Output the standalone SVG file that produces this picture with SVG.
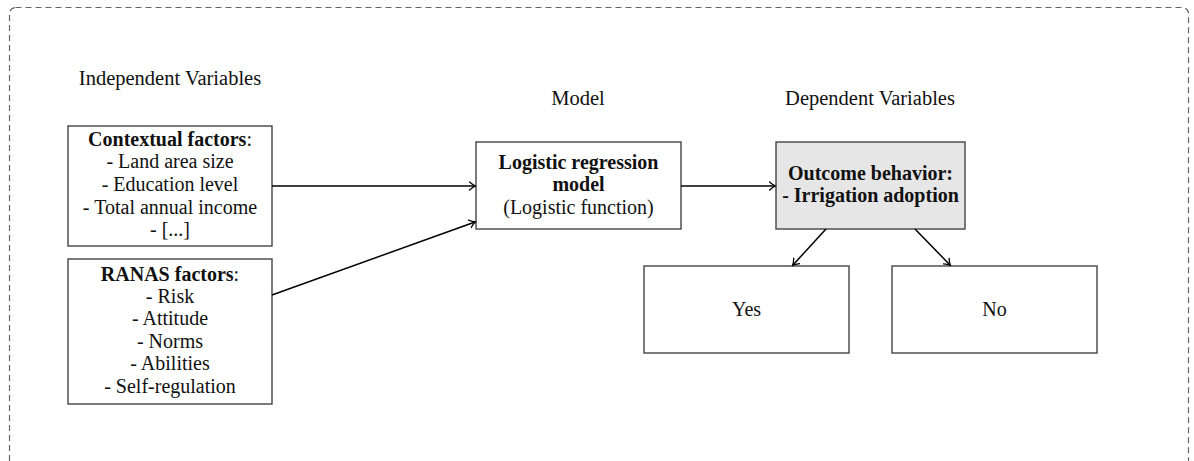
<svg xmlns="http://www.w3.org/2000/svg" width="1194" height="461" viewBox="0 0 1194 461">
  <defs>
    <marker id="arrow" viewBox="-6 -5 8 10" markerWidth="8" markerHeight="10" refX="0" refY="0" orient="auto" markerUnits="userSpaceOnUse">
      <path d="M -5.5 -4 Q -2 -1 0.5 0 Q -2 1 -5.5 4" fill="none" stroke="#000" stroke-width="1.3" stroke-linecap="round"/>
    </marker>
  </defs>
  <style>
    text { font-family: "Liberation Serif", "DejaVu Serif", serif; font-size: 20px; fill: #111; text-anchor: middle; }
    .head { font-size: 20.5px; }
    .b { font-weight: bold; }
    .box { fill: #fff; stroke: #444; stroke-width: 1.4; }
    .shade { fill: #e6e6e6; }
    .edge { fill: none; stroke: #000; stroke-width: 1.5; marker-end: url(#arrow); }
    .frame { fill: none; stroke: #666; stroke-width: 1.2; stroke-dasharray: 6 4; }
  </style>

  <!-- outer dashed frame -->
  <rect class="frame" x="9.5" y="7.5" width="1179" height="520" rx="6" ry="6"/>

  <!-- column headings -->
  <text class="head" x="170" y="85">Independent Variables</text>
  <text class="head" x="578" y="105">Model</text>
  <text class="head" x="870" y="105">Dependent Variables</text>

  <g id="contextual">
    <rect class="box" x="68" y="126" width="204" height="120"/>
    <text x="170" y="146"><tspan class="b">Contextual factors</tspan>:</text>
    <text x="170" y="168">- Land area size</text>
    <text x="170" y="191">- Education level</text>
    <text x="170" y="214">- Total annual income</text>
    <text x="170" y="236">- [...]</text>
  </g>

  <g id="ranas">
    <rect class="box" x="68" y="259" width="204" height="145"/>
    <text x="170" y="281"><tspan class="b">RANAS factors</tspan>:</text>
    <text x="170" y="303">- Risk</text>
    <text x="170" y="325">- Attitude</text>
    <text x="170" y="348">- Norms</text>
    <text x="170" y="370">- Abilities</text>
    <text x="170" y="393">- Self-regulation</text>
  </g>

  <g id="model">
    <rect class="box" x="476" y="142" width="205" height="87"/>
    <text class="b" x="578.5" y="169">Logistic regression</text>
    <text class="b" x="578.5" y="191">model</text>
    <text x="578.5" y="214">(Logistic function)</text>
  </g>

  <g id="outcome">
    <rect class="box shade" x="776" y="142" width="189" height="87"/>
    <text class="b" x="870.5" y="180">Outcome behavior:</text>
    <text class="b" x="870.5" y="202">- Irrigation adoption</text>
  </g>

  <g id="yes">
    <rect class="box" x="644" y="266" width="205" height="87"/>
    <text x="746.5" y="316">Yes</text>
  </g>

  <g id="no">
    <rect class="box" x="892" y="266" width="205" height="87"/>
    <text x="994.5" y="316">No</text>
  </g>

  <g id="connectors">
    <line class="edge" x1="272" y1="186" x2="475" y2="186"/>
    <line class="edge" x1="272" y1="295" x2="475" y2="222"/>
    <line class="edge" x1="681" y1="186" x2="775" y2="186"/>
    <line class="edge" x1="826" y1="229" x2="793" y2="265"/>
    <line class="edge" x1="915" y1="229" x2="950" y2="265"/>
  </g>
</svg>
